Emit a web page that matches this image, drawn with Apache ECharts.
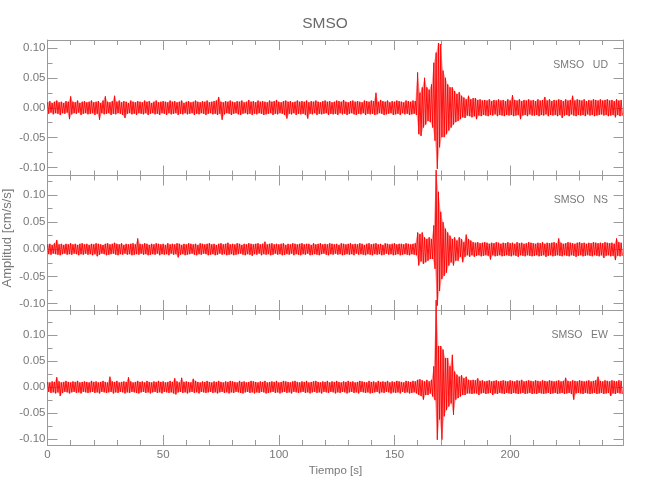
<!DOCTYPE html>
<html><head><meta charset="utf-8">
<script src="https://cdn.jsdelivr.net/npm/echarts@6/dist/echarts.min.js"></script>
<style>html,body{margin:0;padding:0;background:#fff}#c{width:650px;height:500px}</style>
</head><body><div id="c"></div>
<script>
// Tick values
const xMajorTicks = [0, 50, 100, 150, 200];
const xMinorTicks = [10, 20, 30, 40, 60, 70, 80, 90, 110, 120, 130, 140, 160, 170, 180, 190, 210, 220, 230, 240];
const yMajorTicks = [-0.10, -0.05, 0, 0.05, 0.10];
const yMinorTicks = [-0.075, -0.025, 0.025, 0.075, 0.125];
const stationName = 'SMSO';
const componentNames = ['UD', 'NS', 'EW'];

// Per-second upper / lower peak amplitudes, in 0.001 cm/s/s (t = 0..248 s)
const udHi = [
 9,11,8,10,12,9,10,8,11,10, 19,10,9,12,8,10,11,9,10,12, 9,10,11,8,12,19,10,9,11,20,
 10,12,9,11,10,8,12,10,9,11, 10,9,12,10,11,8,10,12,9,10, 11,10,9,12,10,11,9,10,12,8,
 10,11,9,10,12,10,9,11,10,12, 9,10,11,12,18,10,9,11,10,12, 10,9,11,10,12,9,10,13,10,11,
 9,12,10,11,10,9,12,10,11,13, 10,9,11,12,10,11,9,10,12,10, 11,10,12,9,11,10,12,10,9,11,
 12,10,11,9,10,12,11,10,13,10, 9,11,12,10,11,10,9,12,11,10, 12,11,25,10,13,11,10,12,9,11,
 10,12,11,10,9,12,11,10,12,11, 59,25,34,50,34,30,39,75,92,108, 106,62,50,39,34,34,28,23,26,20,
 17,14,20,14,16,16,13,14,12,13, 12,14,11,13,12,14,12,13,11,14, 12,21,13,12,14,11,13,12,14,12,
 13,11,14,12,13,18,12,14,11,13, 12,14,13,11,14,12,13,20,12,14, 13,12,14,11,13,12,14,13,12,14,
 12,13,14,12,13,11,14,12,13
];
const udLo = [
 -10,-8,-11,-9,-10,-12,-9,-10,-8,-19, -11,-9,-10,-8,-12,-10,-9,-11,-10,-9, -12,-10,-20,-9,-11,-10,-9,-12,-10,-11,
 -9,-10,-12,-17,-10,-9,-11,-10,-12,-9, -10,-11,-9,-12,-10,-9,-11,-10,-12,-9, -10,-12,-9,-11,-10,-9,-12,-10,-11,-9,
 -11,-10,-9,-12,-10,-11,-9,-10,-12,-10, -9,-11,-10,-12,-10,-20,-11,-9,-10,-12, -10,-9,-11,-12,-10,-9,-11,-10,-12,-10,
 -11,-9,-10,-12,-11,-10,-9,-12,-10,-11, -9,-10,-12,-18,-10,-11,-9,-12,-10,-11, -10,-12,-18,-10,-11,-9,-12,-10,-11,-10,
 -9,-12,-10,-11,-10,-12,-9,-11,-10,-12, -10,-9,-11,-12,-10,-11,-9,-12,-10,-11, -10,-12,-11,-9,-10,-12,-11,-10,-9,-12,
 -11,-10,-12,-9,-11,-10,-12,-11,-10,-12, -44,-47,-33,-28,-22,-24,-33,-55,-102,-66, -49,-49,-44,-38,-33,-28,-24,-22,-19,-16,
 -17,-13,-14,-16,-14,-19,-13,-14,-12,-13, -14,-12,-13,-11,-14,-12,-13,-14,-12,-13, -12,-14,-13,-12,-19,-13,-12,-14,-11,-13,
 -13,-12,-14,-12,-13,-11,-14,-12,-13,-12, -14,-12,-17,-13,-12,-14,-11,-13,-14,-12, -13,-12,-14,-11,-13,-12,-14,-13,-12,-11,
 -13,-12,-14,-13,-12,-16,-12,-14,-13
];
const nsHi = [
 9,10,8,11,17,9,10,8,10,9, 11,9,10,8,10,11,9,10,8,10, 9,11,10,9,8,10,11,9,10,12,
 10,9,11,8,10,9,10,11,9,20, 10,9,11,10,8,10,9,11,10,9, 10,8,11,9,10,9,11,10,8,10,
 9,11,10,9,10,8,11,10,9,10, 11,9,10,8,10,11,9,10,12,9, 10,9,11,10,8,10,9,11,10,9,
 10,11,9,10,14,9,10,11,9,10, 9,10,11,8,10,9,11,10,9,10, 11,9,10,10,8,11,9,10,11,9,
 10,9,11,10,9,10,8,11,10,9, 10,11,9,10,9,11,10,8,10,11, 9,10,11,9,10,8,11,10,9,10,
 11,9,10,10,9,11,10,9,10,11, 31,28,31,22,19,22,19,44,146,106, 69,50,38,31,25,19,22,16,22,19,
 13,27,19,16,13,12,13,11,12,13, 12,10,12,11,13,12,10,12,11,13, 11,12,10,13,11,12,10,11,13,12,
 11,10,12,11,13,10,12,11,12,13, 11,20,12,10,11,13,12,11,10,12, 13,11,12,10,12,11,13,12,11,12,
 11,13,12,11,12,10,20,13,12
];
const nsLo = [
 -9,-10,-8,-9,-10,-11,-9,-8,-10,-9, -10,-8,-9,-11,-9,-10,-8,-10,-9,-11, -9,-13,-10,-8,-9,-11,-10,-9,-8,-10,
 -11,-9,-10,-8,-10,-9,-11,-10,-9,-10, -8,-10,-9,-11,-10,-9,-10,-8,-11,-9, -10,-9,-11,-8,-10,-9,-15,-10,-9,-11,
 -10,-9,-8,-10,-11,-9,-10,-8,-9,-11, -10,-9,-11,-10,-8,-10,-9,-11,-10,-9, -11,-10,-9,-8,-10,-11,-9,-10,-12,-9,
 -10,-8,-11,-9,-10,-9,-11,-10,-8,-10, -9,-11,-10,-9,-10,-8,-11,-9,-10,-11, -9,-10,-8,-11,-10,-9,-10,-11,-9,-8,
 -10,-11,-9,-10,-8,-10,-9,-11,-10,-9, -10,-9,-11,-8,-10,-9,-10,-11,-9,-10, -11,-9,-10,-9,-11,-10,-8,-10,-9,-11,
 -10,-9,-11,-10,-9,-10,-11,-9,-10,-11, -30,-22,-27,-24,-21,-18,-18,-36,-104,-77, -55,-49,-43,-30,-24,-30,-21,-21,-14,-24,
 -14,-11,-14,-11,-14,-12,-11,-13,-12,-11, -12,-19,-11,-13,-12,-11,-13,-12,-11,-12, -13,-11,-12,-14,-11,-12,-13,-11,-12,-13,
 -12,-11,-13,-12,-11,-14,-12,-11,-13,-12, -11,-12,-13,-11,-12,-13,-11,-12,-14,-12, -11,-13,-12,-11,-12,-13,-11,-12,-13,-11,
 -16,-12,-11,-13,-12,-20,-12,-13,-12
];
const ewHi = [
 10,9,11,10,19,11,9,10,12,10, 9,11,10,12,9,10,11,10,9,12, 10,11,9,10,12,10,9,20,11,10,
 12,9,10,11,10,19,11,9,10,12, 10,11,9,12,10,9,11,10,12,10, 11,9,10,12,10,17,11,9,18,10,
 11,10,9,16,12,10,9,11,10,12, 10,9,11,10,12,10,9,11,10,12, 11,10,9,12,10,11,9,10,12,11,
 10,9,11,10,12,9,10,11,10,12, 9,10,12,11,10,9,11,12,10,9, 11,10,12,9,10,11,12,10,9,11,
 10,12,9,11,10,12,10,9,11,10, 12,10,11,9,10,12,11,10,9,12, 10,11,9,12,10,11,10,12,9,11,
 10,12,11,10,9,12,11,10,12,11, 14,15,13,11,14,11,14,40,167,79, 79,72,56,56,40,62,30,24,20,23,
 17,20,14,13,14,13,17,12,13,11, 12,13,11,12,13,11,12,13,12,11, 13,12,11,13,12,14,11,12,13,12,
 11,13,12,11,13,12,11,13,12,11, 12,13,11,12,18,12,11,13,12,11, 13,12,11,12,13,11,12,13,20,12,
 11,13,12,11,13,12,11,13,12
];
const ewLo = [
 -9,-11,-10,-12,-10,-17,-11,-9,-10,-12, -10,-9,-11,-10,-12,-9,-10,-11,-10,-9, -11,-10,-12,-9,-10,-11,-10,-9,-12,-10,
 -11,-9,-10,-12,-10,-11,-9,-10,-11,-12, -10,-9,-11,-10,-12,-10,-9,-11,-10,-12, -9,-10,-11,-10,-12,-14,-10,-9,-11,-10,
 -12,-10,-9,-11,-10,-12,-9,-10,-11,-10, -9,-11,-10,-12,-10,-9,-11,-10,-12,-10, -11,-9,-10,-11,-12,-10,-9,-11,-10,-12,
 -10,-11,-9,-10,-12,-11,-10,-9,-11,-10, -12,-10,-9,-11,-10,-12,-9,-10,-11,-10, -9,-11,-10,-12,-10,-9,-11,-10,-12,-9,
 -10,-11,-9,-10,-12,-10,-11,-9,-10,-12, -10,-9,-11,-10,-12,-9,-10,-11,-10,-12, -11,-10,-9,-12,-10,-11,-9,-10,-12,-10,
 -11,-10,-12,-9,-11,-10,-12,-11,-10,-12, -15,-17,-24,-15,-15,-12,-18,-25,-101,-62, -101,-56,-44,-37,-31,-53,-24,-21,-18,-15,
 -15,-12,-12,-13,-12,-12,-15,-12,-11,-13, -12,-11,-15,-12,-13,-11,-12,-13,-11,-12, -13,-11,-12,-13,-12,-11,-13,-12,-11,-13,
 -12,-13,-11,-12,-13,-12,-11,-13,-12,-11, -13,-12,-11,-13,-12,-11,-13,-24,-12,-11, -12,-13,-11,-12,-13,-12,-11,-13,-12,-11,
 -13,-12,-11,-17,-12,-13,-11,-12,-13
];

const traces = [[udHi, udLo], [nsHi, nsLo], [ewHi, ewLo]];

// layout / styling
const AX = '#9a9a9a', TX = '#787878', FONT = "'Liberation Sans','Arial',sans-serif";
const gridBoxes = [{top: 40, height: 135.5}, {top: 175.5, height: 134.5}, {top: 310, height: 135}];
const yExtents = [[-0.113, 0.113], [-0.112, 0.136], [-0.111, 0.148]];
const X_MAX = 249;

const grids = gridBoxes.map(g => ({left: 47.5, right: 26.5, top: g.top, height: g.height, containLabel: false}));
const xAxes = [], yAxes = [], series = [];

gridBoxes.forEach((g, gi) => {
  const isLast = gi === gridBoxes.length - 1;
  const xb = {gridIndex: gi, type: 'value', min: 0, max: X_MAX, splitLine: {show: false}, axisLabel: {show: false}};
  const xIdx = xAxes.length;
  xAxes.push(Object.assign({}, xb, {position: 'bottom',
    axisLine: {show: true, onZero: false, lineStyle: {color: AX, width: 1}},
    axisTick: {show: true, inside: true, length: 10, customValues: xMajorTicks, lineStyle: {color: AX}},
    axisLabel: isLast ? {show: true, customValues: xMajorTicks, color: TX, fontFamily: FONT, fontSize: 11.5, margin: 4} : {show: false},
    name: isLast ? 'Tiempo [s]' : '', nameLocation: 'middle', nameGap: 20,
    nameTextStyle: {color: TX, fontFamily: FONT, fontSize: 11.5}}));
  xAxes.push(Object.assign({}, xb, {position: 'bottom', axisLine: {show: false, onZero: false},
    axisTick: {show: true, inside: true, length: 5, customValues: xMinorTicks, lineStyle: {color: AX}}}));
  xAxes.push(Object.assign({}, xb, {position: 'top',
    axisLine: {show: true, onZero: false, lineStyle: {color: AX, width: 1}},
    axisTick: {show: true, inside: true, length: 10, customValues: xMajorTicks, lineStyle: {color: AX}}}));
  xAxes.push(Object.assign({}, xb, {position: 'top', axisLine: {show: false, onZero: false},
    axisTick: {show: true, inside: true, length: 5, customValues: xMinorTicks, lineStyle: {color: AX}}}));

  const [ymin, ymax] = yExtents[gi];
  const yb = {gridIndex: gi, type: 'value', min: ymin, max: ymax, splitLine: {show: false}, axisLabel: {show: false}};
  const yIdx = yAxes.length;
  yAxes.push(Object.assign({}, yb, {position: 'left',
    axisLine: {show: true, onZero: false, lineStyle: {color: AX, width: 1}},
    axisTick: {show: true, inside: true, length: 10, customValues: yMajorTicks, lineStyle: {color: AX}},
    axisLabel: {show: true, customValues: yMajorTicks, color: TX, fontFamily: FONT, fontSize: 11.5, margin: 2,
      formatter: v => (Math.abs(v) < 1e-9 ? 0 : v).toFixed(2)}}));
  yAxes.push(Object.assign({}, yb, {position: 'left', axisLine: {show: false, onZero: false},
    axisTick: {show: true, inside: true, length: 5, customValues: yMinorTicks.filter(v => v < ymax), lineStyle: {color: AX}}}));
  yAxes.push(Object.assign({}, yb, {position: 'right',
    axisLine: {show: true, onZero: false, lineStyle: {color: AX, width: 1}},
    axisTick: {show: true, inside: true, length: 10, customValues: yMajorTicks, lineStyle: {color: AX}}}));
  yAxes.push(Object.assign({}, yb, {position: 'right', axisLine: {show: false, onZero: false},
    axisTick: {show: true, inside: true, length: 5, customValues: yMinorTicks.filter(v => v < ymax), lineStyle: {color: AX}}}));

  const [hi, lo] = traces[gi];
  const pts = [], quads = [];
  for (let i = 0; i < hi.length; i++) {
    pts.push([i, hi[i] / 1000]);
    pts.push([i + 0.5, lo[i] / 1000]);
    if (i + 1 < hi.length) quads.push([i, hi[i] / 1000, hi[i + 1] / 1000, lo[i] / 1000, lo[i + 1] / 1000]);
  }
  // band between the upper and lower peaks (dense trace body)
  series.push({type: 'custom', xAxisIndex: xIdx, yAxisIndex: yIdx, silent: true, z: 1, data: quads,
    renderItem: (params, api) => {
      const t = api.value(0);
      const p = [api.coord([t, api.value(1)]), api.coord([t + 1, api.value(2)]),
                 api.coord([t + 1.5, api.value(4)]), api.coord([t + 0.5, api.value(3)])];
      return {type: 'polygon', shape: {points: p}, style: {fill: 'rgba(255,70,70,0.5)'}};
    }});
  // the trace itself
  series.push({type: 'line', name: stationName + ' ' + componentNames[gi], xAxisIndex: xIdx, yAxisIndex: yIdx,
    data: pts, showSymbol: false, symbol: 'none', clip: false, silent: true,
    lineStyle: {color: '#ff0000', width: 0.9}, z: 2});
});

const titles = [{text: stationName, left: 'center', top: 11,
  textStyle: {color: '#6a6a6a', fontFamily: FONT, fontSize: 15.5, fontWeight: 'normal'}}];
gridBoxes.forEach((g, gi) => {
  titles.push({text: stationName + '   ' + componentNames[gi], right: 37, top: g.top + 14.5,
    textStyle: {color: TX, fontFamily: FONT, fontSize: 10.5, fontWeight: 'normal'}});
});

const chart = echarts.init(document.getElementById('c'), null, {renderer: 'canvas'});
chart.setOption({
  animation: false,
  backgroundColor: '#ffffff',
  title: titles,
  grid: grids,
  xAxis: xAxes,
  yAxis: yAxes,
  series: series,
  graphic: [{type: 'text', x: 7, y: 238, rotation: Math.PI / 2,
    style: {text: 'Amplitud [cm/s/s]', fill: TX, font: "13px " + FONT, textAlign: 'center', textVerticalAlign: 'middle'}}]
});
</script></body></html>
